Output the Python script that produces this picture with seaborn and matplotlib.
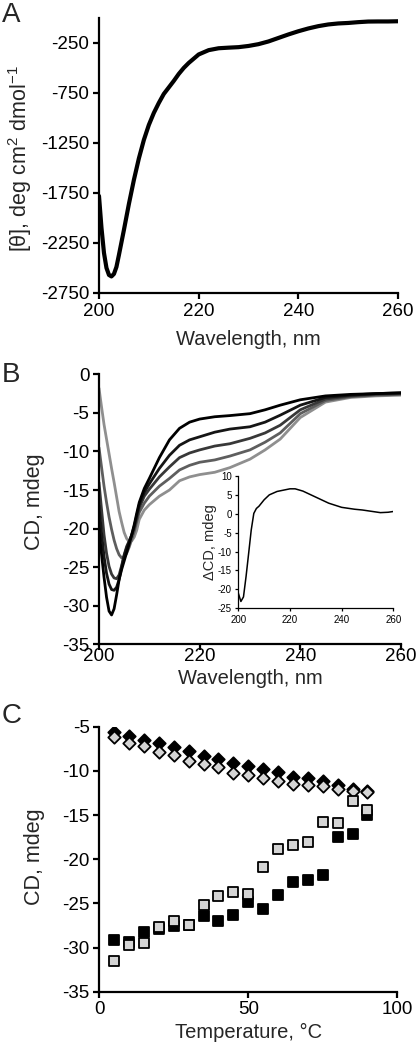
import numpy as np
import pandas as pd
import matplotlib
matplotlib.use("Agg")
import matplotlib.pyplot as plt
import seaborn as sns

# ---------------- data ----------------
# Panel A: mean residue ellipticity vs wavelength
wl_a = [200, 200.5, 201, 201.5, 202, 202.5, 203, 203.5, 204, 205, 206, 207, 208, 209, 210,
        211, 212, 213, 214, 215, 216, 217, 218, 220, 222, 224, 226, 228, 230, 232, 234,
        236, 238, 240, 242, 244, 246, 248, 250, 252, 254, 256, 258, 260]
theta_a = [-1780, -2100, -2350, -2500, -2570, -2585, -2560, -2490, -2370, -2120, -1860, -1620,
           -1405, -1220, -1070, -950, -850, -760, -695, -630, -560, -500, -450, -365, -322,
           -303, -297, -292, -280, -262, -235, -200, -165, -133, -105, -82, -65, -55, -50,
           -42, -36, -35, -35, -33]

# Panel B: CD spectra at five conditions
wl_b = [200, 200.5, 201, 201.5, 202, 202.5, 203, 203.5, 204, 204.5, 205, 205.5, 206, 206.5,
        207, 207.5, 208, 209, 210, 212, 214, 216, 218, 220, 223, 226, 230, 233, 236, 240,
        245, 250, 255, 260]
cd_b1 = [-20, -23.3, -26.3, -28.9, -30.7, -31.2, -30.4, -28.6, -26.6, -25.3, -24.2, -23.1,
         -22.0, -20.8, -19.5, -18.0, -16.6, -14.8, -13.5, -10.8, -8.5, -7.0, -6.2, -5.8,
         -5.5, -5.35, -5.1, -4.6, -4.0, -3.3, -2.8, -2.6, -2.5, -2.4]
cd_b2 = [-17, -20.5, -23.6, -25.8, -27.2, -27.9, -28.0, -27.6, -26.6, -25.0, -23.5, -22.5,
         -21.7, -20.8, -19.7, -18.3, -16.9, -15.3, -14.2, -12.2, -10.5, -9.2, -8.5, -8.1,
         -7.5, -7.1, -6.8, -6.2, -5.3, -4.0, -3.0, -2.7, -2.5, -2.4]
cd_b3 = [-14, -17.5, -20.8, -23.2, -24.9, -25.9, -26.4, -26.5, -26.0, -24.8, -23.4, -22.3,
         -21.6, -20.9, -20.0, -18.7, -17.3, -15.8, -14.9, -13.3, -12.0, -10.8, -10.2, -9.8,
         -9.3, -9.0, -8.3, -7.6, -6.6, -4.6, -3.2, -2.8, -2.6, -2.5]
cd_b4 = [-9.5, -12, -14.5, -16.6, -18.5, -20.1, -21.5, -22.6, -23.4, -23.8, -23.7, -23.2,
         -22.4, -21.4, -20.4, -19.1, -17.9, -16.7, -15.8, -14.5, -13.5, -12.4, -11.8, -11.4,
         -11.1, -10.6, -9.8, -8.8, -7.6, -5.1, -3.4, -2.9, -2.7, -2.6]
cd_b5 = [-1.8, -4.2, -6.5, -8.4, -10.3, -12.2, -14.0, -15.9, -17.8, -19.2, -20.5, -21.3,
         -21.7, -21.6, -21.1, -20.2, -18.8, -17.6, -16.9, -15.8, -15.0, -13.8, -13.3, -13.0,
         -12.7, -12.1, -11.0, -9.8, -8.4, -5.6, -3.6, -3.0, -2.8, -2.7]
series_b = ["s1", "s2", "s3", "s4", "s5"]
colors_b = ["#000000", "#151515", "#383838", "#5e5e5e", "#8f8f8f"]

# Inset: difference spectrum
wl_in = [200, 201, 202, 203, 204, 205, 206, 207, 208, 210, 212, 215, 220, 222, 225, 230,
         235, 240, 245, 248, 250, 255, 258, 260]
dcd_in = [-21, -23.2, -22, -16.6, -10.5, -4.3, 0.1, 1.4, 2.0, 3.7, 5.0, 5.9, 6.6, 6.6, 6.0,
          4.4, 2.8, 1.7, 1.2, 1.0, 0.8, 0.3, 0.4, 0.6]

# Panel C: thermal melts
temp_c = [5, 10, 15, 20, 25, 30, 35, 40, 45, 50, 55, 60, 65, 70, 75, 80, 85, 90]
dia_black = [-5.6, -6.0, -6.5, -6.9, -7.3, -7.8, -8.3, -8.65, -9.1, -9.4, -9.75, -10.1,
             -10.65, -10.85, -11.2, -11.6, -12.0, -12.3]
dia_gray = [-6.2, -6.9, -7.2, -7.9, -8.2, -8.85, -9.25, -9.6, -10.2, -10.45, -10.85, -11.15,
            -11.5, -11.6, -11.7, -12.0, -12.3, -12.4]
sq_black = [-29.2, -29.4, -28.2, -27.9, -27.6, -27.5, -26.4, -27.0, -26.3, -24.8, -25.6,
            -24.0, -22.6, -22.4, -21.8, -17.5, -17.2, -15.0]
sq_gray = [-31.5, -29.7, -29.5, -27.7, -27.0, -27.4, -25.2, -24.2, -23.7, -23.9, -20.9,
           -18.8, -18.4, -18.0, -15.8, -15.9, -13.4, -14.4]

# ---------------- style ----------------
sns.set_style("ticks")
plt.rcParams["font.family"] = ["Liberation Sans", "DejaVu Sans"]
plt.rcParams["axes.unicode_minus"] = False
plt.rcParams["mathtext.fontset"] = "custom"
plt.rcParams["mathtext.rm"] = "Liberation Sans"
plt.rcParams["mathtext.it"] = "Liberation Sans:italic"
plt.rcParams["mathtext.default"] = "regular"

TICK = 13.5
LAB = 14.5

fig = plt.figure(figsize=(4.2, 10.5), dpi=100)


def style_axes(ax, lw=1.6, tl=4, fs=TICK):
    sns.despine(ax=ax)
    for s in ["left", "bottom"]:
        ax.spines[s].set_linewidth(lw)
        ax.spines[s].set_color("black")
    ax.tick_params(axis="both", direction="out", length=tl, width=lw, labelsize=fs,
                   color="black", labelcolor="black", pad=3)


# ---- Panel A ----
axA = fig.add_axes([0.2357, 0.7210, 0.712, 0.2619])
sns.lineplot(x=wl_a, y=theta_a, ax=axA, color="black", linewidth=3.0, sort=True)
axA.set_xlim(200, 260)
axA.set_ylim(-2750, 0)
axA.set_xticks([200, 220, 240, 260])
axA.set_yticks([-2750, -2250, -1750, -1250, -750, -250])
style_axes(axA)
axA.set_xlabel("Wavelength, nm", fontsize=LAB)
axA.set_ylabel(r"[θ], deg cm$^{2}$ dmol$^{-1}$", fontsize=15.5)
axA.xaxis.set_label_coords(0.5, -0.135)
axA.yaxis.set_label_coords(-0.218, 0.49)

# ---- Panel B ----
axB = fig.add_axes([0.2357, 0.3864, 0.719, 0.2571])
rows = []
for name, vals in zip(series_b, [cd_b1, cd_b2, cd_b3, cd_b4, cd_b5]):
    for w, v in zip(wl_b, vals):
        rows.append({"wl": w, "cd": v, "series": name})
dfB = pd.DataFrame(rows)
order = series_b[::-1]
pal = dict(zip(series_b, colors_b))
sns.lineplot(data=dfB, x="wl", y="cd", hue="series", hue_order=order, palette=pal,
             linewidth=2.0, legend=False, ax=axB)
axB.set_xlim(200, 260)
axB.set_ylim(-35, 0)
axB.set_xticks([200, 220, 240, 260])
axB.set_yticks([-35, -30, -25, -20, -15, -10, -5, 0])
style_axes(axB)
axB.tick_params(axis="x", pad=-1.5)
axB.set_xlabel("Wavelength, nm", fontsize=LAB)
axB.set_ylabel("CD, mdeg", fontsize=LAB + 1)
axB.xaxis.set_label_coords(0.5, -0.09)
axB.yaxis.set_label_coords(-0.179, 0.53)

# ---- Inset ----
axI = fig.add_axes([0.5674, 0.4207, 0.369, 0.126])
sns.lineplot(x=wl_in, y=dcd_in, ax=axI, color="black", linewidth=1.1)
axI.set_xlim(200, 260)
axI.set_ylim(-25, 10)
axI.set_xticks([200, 220, 240, 260])
axI.set_yticks([-25, -20, -15, -10, -5, 0, 5, 10])
style_axes(axI, lw=0.9, tl=2.5, fs=7)
axI.tick_params(pad=2)
axI.patch.set_alpha(0)
axI.set_ylabel("ΔCD, mdeg", fontsize=10.5, labelpad=2)
axI.yaxis.set_label_coords(-0.137, 0.5)

# ---- Panel C ----
axC = fig.add_axes([0.2364, 0.0555, 0.7095, 0.2524])
sns.scatterplot(x=temp_c, y=dia_black, ax=axC, marker="D", s=40, color="black",
                edgecolor="black", linewidth=1.3, zorder=3)
sns.scatterplot(x=temp_c, y=dia_gray, ax=axC, marker="D", s=40, color="#d4d4d4",
                edgecolor="black", linewidth=1.3, zorder=4)
sns.scatterplot(x=temp_c, y=sq_black, ax=axC, marker="s", s=58, color="black",
                edgecolor="black", linewidth=1.3, zorder=3)
sns.scatterplot(x=temp_c, y=sq_gray, ax=axC, marker="s", s=58, color="#d4d4d4",
                edgecolor="black", linewidth=1.3, zorder=4)
axC.set_xlim(0, 100)
axC.set_ylim(-35, -5)
axC.set_xticks([0, 50, 100])
axC.set_yticks([-35, -30, -25, -20, -15, -10, -5])
style_axes(axC)
for sp in axC.spines.values():
    sp.set_zorder(5)
axC.set_xlabel("Temperature, °C", fontsize=LAB)
axC.set_ylabel("CD, mdeg", fontsize=LAB + 1)
axC.xaxis.set_label_coords(0.5, -0.118)
axC.yaxis.set_label_coords(-0.182, 0.51)

# panel letters
fig.text(0.005, 0.979, "A", fontsize=20, va="baseline", ha="left")
fig.text(0.005, 0.636, "B", fontsize=20, va="baseline", ha="left")
fig.text(0.005, 0.3114, "C", fontsize=20, va="baseline", ha="left")

fig.savefig("out.png", dpi=100)
